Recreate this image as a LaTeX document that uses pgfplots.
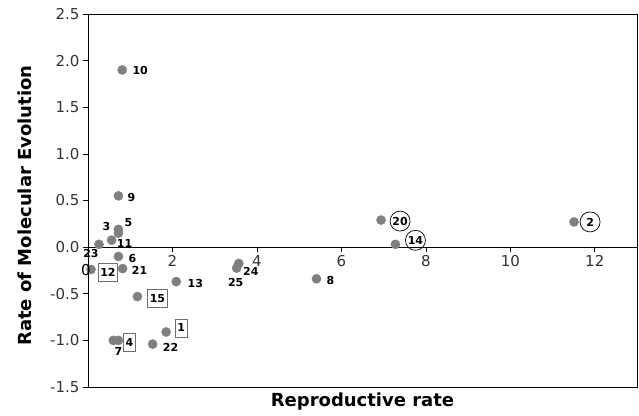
\documentclass[border=0pt]{standalone}
\usepackage{fontspec}
\setmainfont{DejaVu Sans}
\usepackage{pgfplots}
\pgfplotsset{compat=1.18}
\usepackage{pgfplotstable}
\definecolor{dotgray}{RGB}{128,128,128}
\definecolor{boxgray}{RGB}{110,110,110}

% x y label, label offset in pt
\pgfplotstableread{
x y lab dx dy
0.81 1.90 10 18 -1
0.72 0.55 9 13 -2
0.72 0.15 3 -12 7
0.72 0.19 5 10 7
0.56 0.075 11 13 -3
0.26 0.03 23 -8 -9
0.72 -0.10 6 14 -2
0.82 -0.23 21 17 -2
2.09 -0.37 13 19 -2
1.53 -1.04 22 18 -3
0.60 -1.00 7 5 -11
3.57 -0.175 24 12 -8
3.52 -0.225 25 -1 -14
5.41 -0.34 8 14 -2
}\plainpts

\pgfplotstableread{
x y lab dx dy
0.07 -0.24 12 17 -3
1.17 -0.53 15 20 -2
1.85 -0.91 1 15 4
0.72 -1.00 4 11 -2
}\boxedpts

\pgfplotstableread{
x y lab dx dy
6.94 0.29 20 19 -1
7.28 0.03 14 20 4
11.51 0.27 2 16 0
}\circledpts

\pgfplotsset{
  ptlabels/.style={
    only marks, mark=*, mark size=4.6pt, color=dotgray,
    nodes near coords, point meta=explicit symbolic,
    visualization depends on={\thisrow{dx}\as\dx},
    visualization depends on={\thisrow{dy}\as\dy},
    nodes near coords style={anchor=center, xshift=\dx pt, yshift=\dy pt,
      font=\fontsize{11}{13}\selectfont\bfseries, text=black},
  },
}

\begin{document}
\begin{tikzpicture}
\begin{axis}[
  scale only axis, width=549pt, height=373pt,
  xmin=0, xmax=13, ymin=-1.5, ymax=2.5,
  axis x line*=middle, axis y line*=left,
  axis on top,
  xtick={2,4,...,12}, ytick={-1.5,-1,...,2.5},
  y tick label style={/pgf/number format/.cd, fixed, fixed zerofill, precision=1},
  /pgf/number format/assume math mode=true,
  tick align=outside, major tick length=5pt,
  tick style={black, line width=0.6pt},
  axis line style={black, line width=0.8pt},
  ticklabel style={font=\fontsize{15}{17}\selectfont, text=black!80},
  xlabel={Reproductive rate}, ylabel={Rate of Molecular Evolution},
  label style={font=\fontsize{18}{20}\selectfont\bfseries},
  xlabel style={at={(axis description cs:0.5,0)}, anchor=north, yshift=-2pt},
  ylabel style={at={(axis description cs:0,0.5)}, anchor=center, yshift=63pt, xshift=-5pt},
  clip=false,
]
\draw[black, line width=0.8pt] (rel axis cs:0,1) -- (rel axis cs:1,1) -- (rel axis cs:1,0) -- (rel axis cs:0,0);
\addplot[ptlabels] table[x=x, y=y, meta=lab] {\plainpts};
\addplot[ptlabels, nodes near coords style={draw=boxgray, line width=0.6pt,
  inner xsep=2pt, inner ysep=1pt, minimum height=18pt}] table[x=x, y=y, meta=lab] {\boxedpts};
\addplot[ptlabels, nodes near coords style={draw=black, line width=0.7pt,
  circle, inner sep=0pt, minimum size=20pt}] table[x=x, y=y, meta=lab] {\circledpts};
\coordinate (zerolab) at (axis cs:0,-0.245);
\end{axis}
% tick label "0" sits over the dot near the origin
\node[font=\fontsize{15}{17}\selectfont, text=black, anchor=center, xshift=-2pt] at (zerolab) {0};
\pgfresetboundingbox
\path[use as bounding box] ([shift={(-88pt,-28pt)}]current axis.south west) rectangle ([shift={(2pt,14pt)}]current axis.north east);
\end{tikzpicture}
\end{document}
